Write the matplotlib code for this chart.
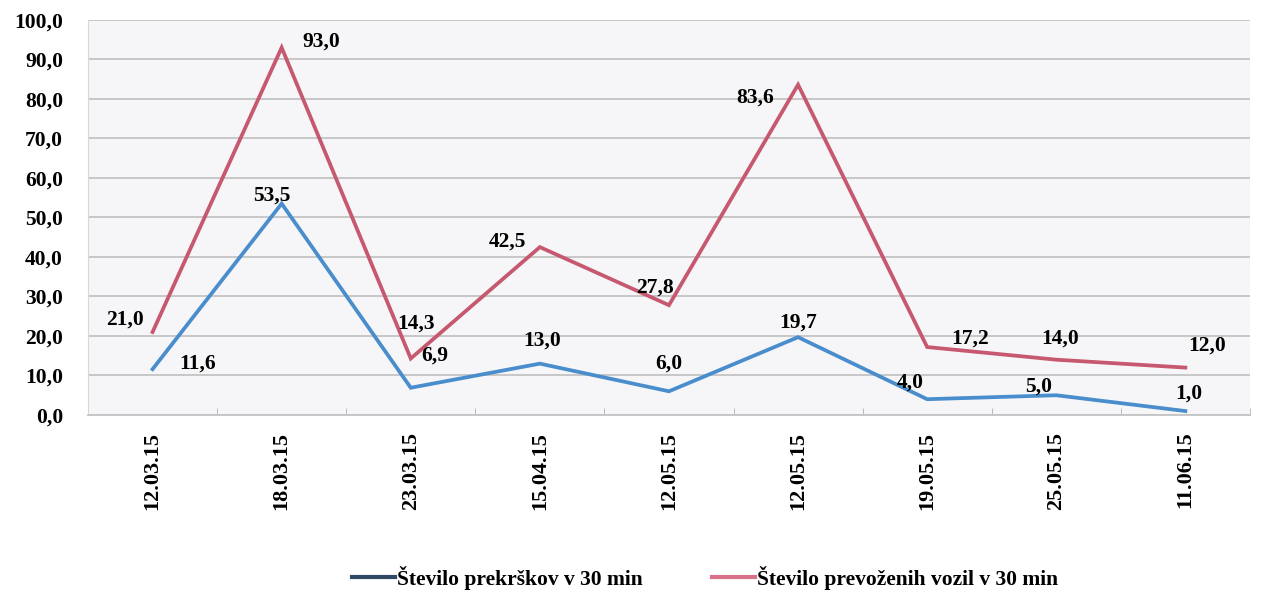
import matplotlib.pyplot as plt
from matplotlib.lines import Line2D

plt.rcParams['font.family'] = ['Liberation Serif', 'DejaVu Serif']
plt.rcParams['font.weight'] = 'bold'

# podatki
datumi = ['12.03.15', '18.03.15', '23.03.15', '15.04.15', '12.05.15',
          '12.05.15', '19.05.15', '25.05.15', '11.06.15']
prekrski = [11.6, 53.5, 6.9, 13.0, 6.0, 19.7, 4.0, 5.0, 1.0]
vozila = [21.0, 93.0, 14.3, 42.5, 27.8, 83.6, 17.2, 14.0, 12.0]

# odmiki oznak (v pikslih)
odmik_prekrski = [(45, 6), (-10, 8), (24, 32), (2, 23), (0, 28),
                  (0, 15), (-17, 17), (-18, 9), (3, 17)]
odmik_vozila = [(-28, 12), (40, 6), (5, 35), (-32, 5), (-14, 18),
                (-43, -13), (43, 8), (4, 21), (22, 22)]

modra = '#4a8dcc'
rdeca = '#c6586f'

fig = plt.figure(figsize=(12.61, 5.91), dpi=100)
ax = fig.add_axes([0.0698, 0.2978, 0.9214, 0.6685])
ax.set_facecolor('#f6f6f8')

x = range(len(datumi))
ax.plot(x, prekrski, color=modra, lw=2.7, solid_joinstyle='miter')
ax.plot(x, vozila, color=rdeca, lw=2.7, solid_joinstyle='miter')

for i, v in enumerate(prekrski):
    ax.annotate(f'{v:.1f}'.replace('.', ','), (i, v), xytext=odmik_prekrski[i],
                textcoords='offset pixels', ha='center', va='center', fontsize=15.5)
for i, v in enumerate(vozila):
    ax.annotate(f'{v:.1f}'.replace('.', ','), (i, v), xytext=odmik_vozila[i],
                textcoords='offset pixels', ha='center', va='center', fontsize=15.5)

ax.set_xlim(-0.5, len(datumi) - 0.5)
ax.set_ylim(0, 100)
ax.set_yticks(range(0, 101, 10))
ax.set_yticklabels([f'{t:.1f}'.replace('.', ',') for t in range(0, 101, 10)], fontsize=15.5)
ax.set_xticks(list(x))
ax.set_xticklabels(datumi, rotation=90, fontsize=16)
ax.set_xticks([i + 0.5 for i in range(-1, len(datumi))], minor=True)
ax.tick_params(axis='x', which='major', length=0, pad=12)
ax.tick_params(axis='x', which='minor', length=5, color='#b0b0b0', direction='in')
ax.tick_params(axis='y', length=0, pad=18)

ax.grid(axis='y', color='#c4c4c4', lw=1.3)
ax.set_axisbelow(True)
for s in ['top', 'right']:
    ax.spines[s].set_visible(False)
ax.spines['left'].set_color('#d8d8d8')
ax.spines['bottom'].set_color('#c4c4c4')
ax.spines['bottom'].set_linewidth(1.3)

rocaji = [Line2D([], [], color='#2f4a66', lw=3),
          Line2D([], [], color='#d8708a', lw=3)]
fig.legend(rocaji, ['Število prekrškov v 30 min', 'Število prevoženih vozil v 30 min'],
           loc='center', bbox_to_anchor=(0.559, 0.022), ncol=2, frameon=False,
           fontsize=15.5, handlelength=2.0, handletextpad=0.1, columnspacing=3.2)

fig.savefig('out.png', dpi=100)
